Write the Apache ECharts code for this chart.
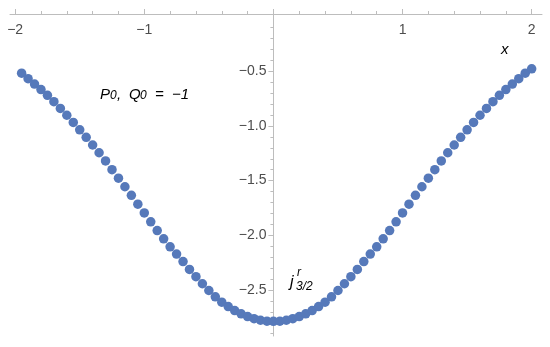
<!DOCTYPE html>
<html>
<head>
<meta charset="utf-8">
<style>
    html, body { margin: 0; padding: 0; background: #fff; }
    #chart { width: 550px; height: 347px; }
</style>
<script src="https://cdn.jsdelivr.net/npm/echarts@6/dist/echarts.min.js"></script>
</head>
<body>
<div id="chart"></div>
<script>
// Sample points
var xValues = [
    -1.95, -1.90, -1.85, -1.80, -1.75, -1.70, -1.65, -1.60, -1.55, -1.50,
    -1.45, -1.40, -1.35, -1.30, -1.25, -1.20, -1.15, -1.10, -1.05, -1.00,
    -0.95, -0.90, -0.85, -0.80, -0.75, -0.70, -0.65, -0.60, -0.55, -0.50,
    -0.45, -0.40, -0.35, -0.30, -0.25, -0.20, -0.15, -0.10, -0.05, 0.00,
    0.05, 0.10, 0.15, 0.20, 0.25, 0.30, 0.35, 0.40, 0.45, 0.50,
    0.55, 0.60, 0.65, 0.70, 0.75, 0.80, 0.85, 0.90, 0.95, 1.00,
    1.05, 1.10, 1.15, 1.20, 1.25, 1.30, 1.35, 1.40, 1.45, 1.50,
    1.55, 1.60, 1.65, 1.70, 1.75, 1.80, 1.85, 1.90, 1.95, 2.00
];
var yValues = [
    -0.517, -0.568, -0.617, -0.667, -0.720, -0.778, -0.840, -0.902, -0.968, -1.035,
    -1.104, -1.174, -1.245, -1.320, -1.400, -1.478, -1.556, -1.634, -1.715, -1.795,
    -1.877, -1.957, -2.032, -2.105, -2.172, -2.240, -2.312, -2.378, -2.443, -2.505,
    -2.563, -2.612, -2.652, -2.688, -2.718, -2.743, -2.763, -2.777, -2.785, -2.787,
    -2.785, -2.777, -2.763, -2.743, -2.718, -2.688, -2.652, -2.612, -2.563, -2.505,
    -2.443, -2.378, -2.312, -2.240, -2.172, -2.105, -2.032, -1.957, -1.877, -1.795,
    -1.715, -1.634, -1.556, -1.478, -1.400, -1.320, -1.245, -1.174, -1.104, -1.035,
    -0.968, -0.902, -0.840, -0.778, -0.720, -0.667, -0.617, -0.568, -0.517, -0.477
];

// Axis ticks and labels
var xMajorTicks = [-2, -1, 0, 1, 2];
var xTickLabels = [-2, -1, 1, 2];
var xMinorTicks = [-1.8, -1.6, -1.4, -1.2, -0.8, -0.6, -0.4, -0.2,
    0.2, 0.4, 0.6, 0.8, 1.2, 1.4, 1.6, 1.8, 2.0];
var yMajorTicks = [-2.5, -2.0, -1.5, -1.0, -0.5];
var yMinorTicks = [-2.9, -2.8, -2.7, -2.6, -2.4, -2.3, -2.2, -2.1, -1.9, -1.8,
    -1.7, -1.6, -1.4, -1.3, -1.2, -1.1, -0.9, -0.8, -0.7, -0.6, -0.4, -0.3, -0.2, -0.1];

(function() {
    'use strict';

    var axisColor = '#bdbdbd';
    var labelColor = '#4d4d4d';
    var fontFamily = '"Liberation Sans", Arial, sans-serif';

    var gridLeft = 10, gridRight = 8, gridTop = 14, gridBottom = 11;
    var xMin = -2.04, xMax = 2.08;
    var yMin = -2.921, yMax = 0.024;
    // y axis crosses at x = 0
    var yAxisOffset = -((0 - xMin) / (xMax - xMin) * (550 - gridLeft - gridRight));

    function fmt(v, digits) {
        return v.toFixed(digits).replace('-', '\u2212');
    }

    var points = xValues.map(function(x, i) {
        return [x, yValues[i]];
    });

    function xAxisBase() {
        return {
            type: 'value',
            min: xMin,
            max: xMax,
            position: 'top',
            splitLine: { show: false },
            axisLine: { onZero: false, lineStyle: { color: axisColor, width: 1 } }
        };
    }

    function yAxisBase() {
        return {
            type: 'value',
            min: yMin,
            max: yMax,
            position: 'left',
            offset: yAxisOffset,
            splitLine: { show: false },
            axisLine: { onZero: false, lineStyle: { color: axisColor, width: 1 } }
        };
    }

    var xMajor = xAxisBase();
    xMajor.axisTick = { customValues: xMajorTicks, length: 5, lineStyle: { color: axisColor } };
    xMajor.axisLabel = {
        customValues: xTickLabels,
        inside: true,
        margin: 9,
        color: labelColor,
        fontSize: 14,
        fontFamily: fontFamily,
        formatter: function(v) { return fmt(v, 0); }
    };

    var xMinor = xAxisBase();
    xMinor.axisLine = { show: false, onZero: false };
    xMinor.axisTick = { customValues: xMinorTicks, length: 3, lineStyle: { color: axisColor } };
    xMinor.axisLabel = { show: false };

    var yMajor = yAxisBase();
    yMajor.axisTick = { customValues: yMajorTicks, length: 5, lineStyle: { color: axisColor } };
    yMajor.axisLabel = {
        customValues: yMajorTicks,
        margin: 7,
        color: labelColor,
        fontSize: 14,
        fontFamily: fontFamily,
        formatter: function(v) { return fmt(v, 1); }
    };

    var yMinor = yAxisBase();
    yMinor.axisLine = { show: false, onZero: false };
    yMinor.axisTick = { customValues: yMinorTicks, length: 3, lineStyle: { color: axisColor } };
    yMinor.axisLabel = { show: false };

    function txt(left, baseline, text, size) {
        return {
            type: 'text',
            x: left,
            y: baseline,
            style: {
                text: text,
                fill: '#000',
                font: 'italic ' + size + 'px ' + fontFamily,
                textAlign: 'left',
                textVerticalAlign: 'alphabetic'
            }
        };
    }

    var chart = echarts.init(document.getElementById('chart'));

    chart.setOption({
        animation: false,
        backgroundColor: '#fff',
        grid: {
            left: gridLeft,
            right: gridRight,
            top: gridTop,
            bottom: gridBottom,
            outerBoundsMode: 'none'
        },
        xAxis: [xMajor, xMinor],
        yAxis: [yMajor, yMinor],
        series: [{
            type: 'scatter',
            xAxisIndex: 0,
            yAxisIndex: 0,
            symbol: 'circle',
            symbolSize: 9.5,
            itemStyle: { color: '#5679ba', opacity: 1 },
            data: points
        }],
        graphic: [
            // P0, Q0 = -1
            txt(100, 87, 'P', 15),
            txt(110, 90, '0', 12),
            txt(117, 87, ',', 15),
            txt(129, 87, 'Q', 15),
            txt(140, 90, '0', 12),
            txt(155, 87, '=', 15),
            txt(172, 87, '\u22121', 15),
            // axis name
            txt(501, 42, 'x', 15),
            // j^r_{3/2}
            txt(290, 275, 'j', 16),
            txt(297, 267, 'r', 12),
            txt(296, 281, '3/2', 12)
        ]
    });
})();
</script>
</body>
</html>
